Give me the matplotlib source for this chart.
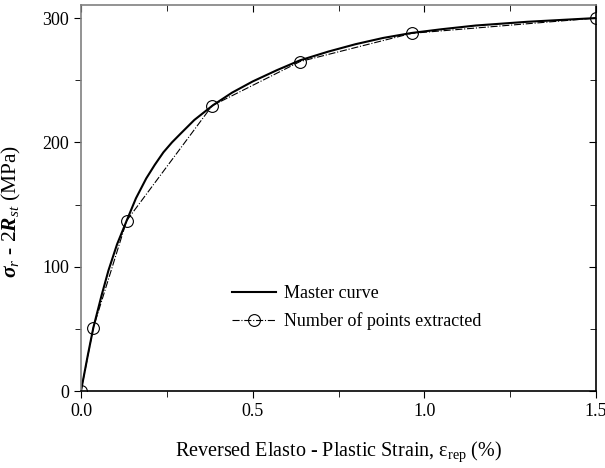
import matplotlib
matplotlib.use("Agg")
import matplotlib.pyplot as plt
from matplotlib.ticker import MultipleLocator

plt.rcParams['font.family'] = ['Liberation Serif', 'DejaVu Serif']
plt.rcParams['mathtext.fontset'] = 'custom'
plt.rcParams['mathtext.rm'] = 'Liberation Serif'
plt.rcParams['mathtext.it'] = 'Liberation Serif:italic'
plt.rcParams['mathtext.bf'] = 'Liberation Serif:bold:italic'

# master curve
master_x = [0, 0.02, 0.036, 0.06, 0.08, 0.105, 0.133, 0.16, 0.19, 0.215, 0.24, 0.265,
            0.29, 0.33, 0.385, 0.44, 0.5, 0.57, 0.638, 0.72, 0.8, 0.88, 0.963, 1.05,
            1.15, 1.3, 1.5]
master_y = [0, 29, 51, 77, 97, 118, 137, 155, 171, 182, 192, 200,
            207, 218, 230, 240, 249, 258, 266, 273, 279, 284, 288, 291,
            294, 297, 300]

# extracted points
pts_x = [0, 0.036, 0.133, 0.382, 0.638, 0.963, 1.5]
pts_y = [0, 51, 137, 229.5, 265, 287.7, 300]

fig = plt.figure(figsize=(6.05, 4.68), dpi=100)
ax = fig.add_axes([81 / 605, 77 / 468, 515 / 605, 386 / 468])

ax.plot(master_x, master_y, color='black', lw=1.5, label='Master curve')
ax.plot(pts_x, pts_y, color='black', lw=0.8, ls='-.', marker='o', ms=8.5,
        mfc='none', mec='black', mew=0.8, label='Number of points extracted')

ax.set_xlim(0, 1.5)
ax.set_ylim(0, 310.5)
ax.xaxis.set_minor_locator(MultipleLocator(0.25))
ax.yaxis.set_major_locator(MultipleLocator(100))
ax.yaxis.set_minor_locator(MultipleLocator(50))
ax.set_xticks([0, 0.5, 1.0, 1.5])
ax.set_xticklabels(['0.0', '0.5', '1.0', '1.5'])

ax.tick_params(which='both', direction='out', top=True, right=True, labelsize=13, color='black')
ax.tick_params(which='major', length=5)
ax.tick_params(which='minor', length=4)
# top and right ticks point inward
for t in ax.xaxis.get_major_ticks() + ax.xaxis.get_minor_ticks():
    t.tick2line.set_marker(3)
for t in ax.yaxis.get_major_ticks() + ax.yaxis.get_minor_ticks():
    t.tick2line.set_marker(0)

ax.spines['left'].set_color('#808080')
ax.spines['top'].set_color('#808080')
for s in ax.spines.values():
    s.set_linewidth(1.2)

ax.set_xlabel(r'Reversed Elasto - Plastic Strain, ε$_{\mathrm{rep}}$ (%)', fontsize=14.5, labelpad=14)
ax.set_ylabel(r'$\mathbf{\sigma}_{\mathit{r}}$ - 2$\mathbf{R}_{\mathit{st}}$ (MPa)', fontsize=15.5, labelpad=6)
ax.yaxis.set_label_coords(-0.112, 0.466)

ax.legend(loc='upper left', bbox_to_anchor=(0.262, 0.316), frameon=False, fontsize=13,
          handlelength=2.45, handletextpad=0.4, labelspacing=0.55, borderpad=0.4)

fig.savefig('out.png', dpi=100)
